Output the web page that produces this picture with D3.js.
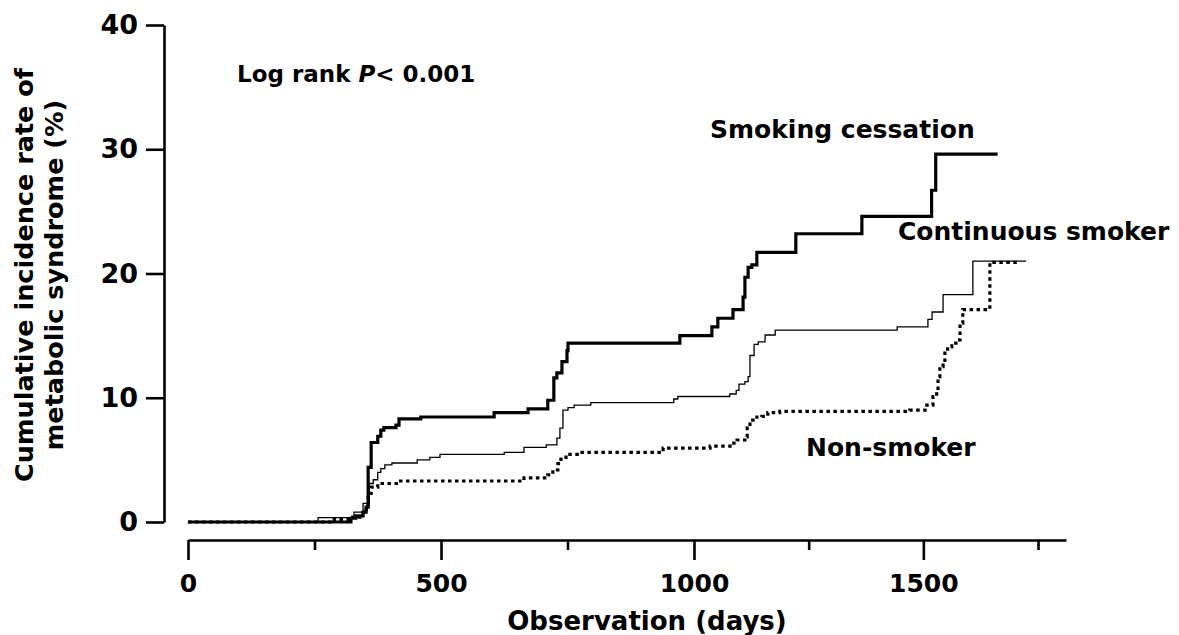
<!DOCTYPE html>
<html>
<head>
<meta charset="utf-8">
<script src="https://cdn.jsdelivr.net/npm/d3@7"></script>
<style>
  body { margin: 0; background: #fff; }
  text { font-family: "DejaVu Sans", Verdana, sans-serif; font-weight: bold; fill: #000; }
</style>
</head>
<body>
<div class="chart"></div>
<script>
// Kaplan-Meier style cumulative incidence (%)
const cessationDays = [0, 322, 332, 346, 352, 356, 362, 375, 381, 387, 411, 417, 460, 605, 672, 711, 723, 729, 739, 749, 751, 972, 1039, 1052, 1085, 1107, 1111, 1118, 1126, 1137, 1222, 1366, 1518, 1527, 1662];
const cessationRate = [0, 0.3, 0.5, 0.8, 1.2, 4.4, 6.4, 6.9, 7.4, 7.6, 7.8, 8.3, 8.45, 8.8, 9.1, 9.8, 11.6, 12.0, 12.9, 13.8, 14.4, 15.0, 15.7, 16.4, 17.1, 18.1, 19.7, 20.5, 20.7, 21.7, 23.2, 24.6, 26.7, 29.6, 29.6];

const continuousDays = [0, 257, 328, 346, 358, 366, 375, 381, 389, 403, 453, 478, 498, 625, 664, 708, 729, 735, 741, 751, 763, 796, 960, 968, 1078, 1092, 1098, 1111, 1118, 1122, 1131, 1140, 1155, 1177, 1443, 1510, 1519, 1543, 1608, 1724];
const continuousRate = [0, 0.35, 0.8, 1.5, 3.1, 3.4, 4.0, 4.3, 4.6, 4.75, 5.0, 5.2, 5.45, 5.6, 6.0, 6.2, 6.75, 7.55, 9.0, 9.2, 9.4, 9.6, 9.9, 10.1, 10.3, 10.6, 11.1, 11.3, 11.7, 13.4, 14.3, 14.5, 15.05, 15.45, 15.7, 16.3, 16.9, 18.3, 21.0, 21.0];

const nonSmokerDays = [0, 289, 322, 346, 356, 362, 375, 415, 664, 711, 721, 731, 737, 747, 773, 939, 1035, 1083, 1094, 1111, 1116, 1122, 1137, 1148, 1161, 1187, 1470, 1504, 1521, 1529, 1532, 1536, 1543, 1547, 1553, 1562, 1575, 1580, 1586, 1645, 1704];
const nonSmokerRate = [0, 0.2, 0.4, 1.0, 2.3, 2.8, 3.1, 3.3, 3.55, 3.8, 4.2, 4.7, 5.2, 5.45, 5.6, 5.95, 6.1, 6.35, 6.6, 6.85, 7.55, 8.2, 8.45, 8.5, 8.8, 8.9, 9.0, 9.4, 10.1, 10.6, 11.7, 12.5, 12.8, 13.6, 14.1, 14.4, 14.65, 16.0, 17.1, 20.9, 20.9];

const xTicks = [0, 250, 500, 750, 1000, 1250, 1500, 1750];
const xLabels = [0, 500, 1000, 1500];
const yTicks = [0, 10, 20, 30, 40];

const width = 1179;
const height = 635;

let svg = d3.select(".chart").append("svg").attr("width", width).attr("height", height);

// the printed axis is not quite uniform past 1000 days
let xScale = d3.scaleLinear().domain([0, 1000, 1811]).range([188, 694, 1066]);
let yScale = d3.scaleLinear().domain([0, 40]).range([522, 25]);

// y axis
let yAxis = svg
  .append("g")
  .attr("transform", "translate(164,0)")
  .call(d3.axisLeft(yScale).tickValues(yTicks).tickSize(18).tickSizeOuter(0).tickPadding(8));
yAxis.selectAll("path, line").attr("stroke", "#000").attr("stroke-width", 2.6);
yAxis.selectAll("text").style("font-size", "27px");

// x axis, detached below the plot
let xAxis = svg
  .append("g")
  .attr("transform", "translate(0,540)")
  .call(
    d3
      .axisBottom(xScale)
      .tickValues(xTicks)
      .tickSize(20)
      .tickSizeOuter(0)
      .tickFormat((d) => (xLabels.includes(d) ? d : ""))
  );
xAxis.selectAll("path, line").attr("stroke", "#000").attr("stroke-width", 2.6);
xAxis
  .selectAll(".tick line")
  .filter((d) => !xLabels.includes(d))
  .attr("y2", 10);
xAxis.selectAll("text").attr("y", 34).attr("dy", "0.71em").style("font-size", "25px");

// curves
const series = [
  { days: cessationDays, rate: cessationRate, width: 3.2, dash: null },
  { days: continuousDays, rate: continuousRate, width: 1.3, dash: null },
  { days: nonSmokerDays, rate: nonSmokerRate, width: 3.2, dash: "3.5,3.5" },
];

let line = d3
  .line()
  .x((d) => xScale(d[0]))
  .y((d) => yScale(d[1]))
  .curve(d3.curveStepAfter);

svg
  .selectAll("path.curve")
  .data(series)
  .enter()
  .append("path")
  .attr("class", "curve")
  .attr("fill", "none")
  .attr("stroke", "#000")
  .attr("stroke-width", (d) => d.width)
  .attr("stroke-dasharray", (d) => d.dash)
  .attr("d", (d) => line(d.days.map((day, i) => [day, d.rate[i]])));

// labels
svg.append("text").attr("x", 710).attr("y", 138).style("font-size", "25px").text("Smoking cessation");
svg.append("text").attr("x", 898).attr("y", 240).style("font-size", "25px").text("Continuous smoker");
svg.append("text").attr("x", 806).attr("y", 456).style("font-size", "25px").text("Non-smoker");

let logRank = svg.append("text").attr("x", 237).attr("y", 82).style("font-size", "23px");
logRank.append("tspan").text("Log rank ");
logRank.append("tspan").style("font-style", "italic").text("P");
logRank.append("tspan").text("< 0.001");

// axis titles
svg
  .append("text")
  .attr("x", 647)
  .attr("y", 630)
  .attr("text-anchor", "middle")
  .style("font-size", "26px")
  .text("Observation (days)");

let yTitle = svg.append("g").attr("transform", "translate(0,275) rotate(-90)");
yTitle.append("text").attr("y", 33).attr("text-anchor", "middle").style("font-size", "25.5px").text("Cumulative incidence rate of");
yTitle.append("text").attr("y", 63).attr("text-anchor", "middle").style("font-size", "25.5px").text("metabolic syndrome (%)");
</script>
</body>
</html>
